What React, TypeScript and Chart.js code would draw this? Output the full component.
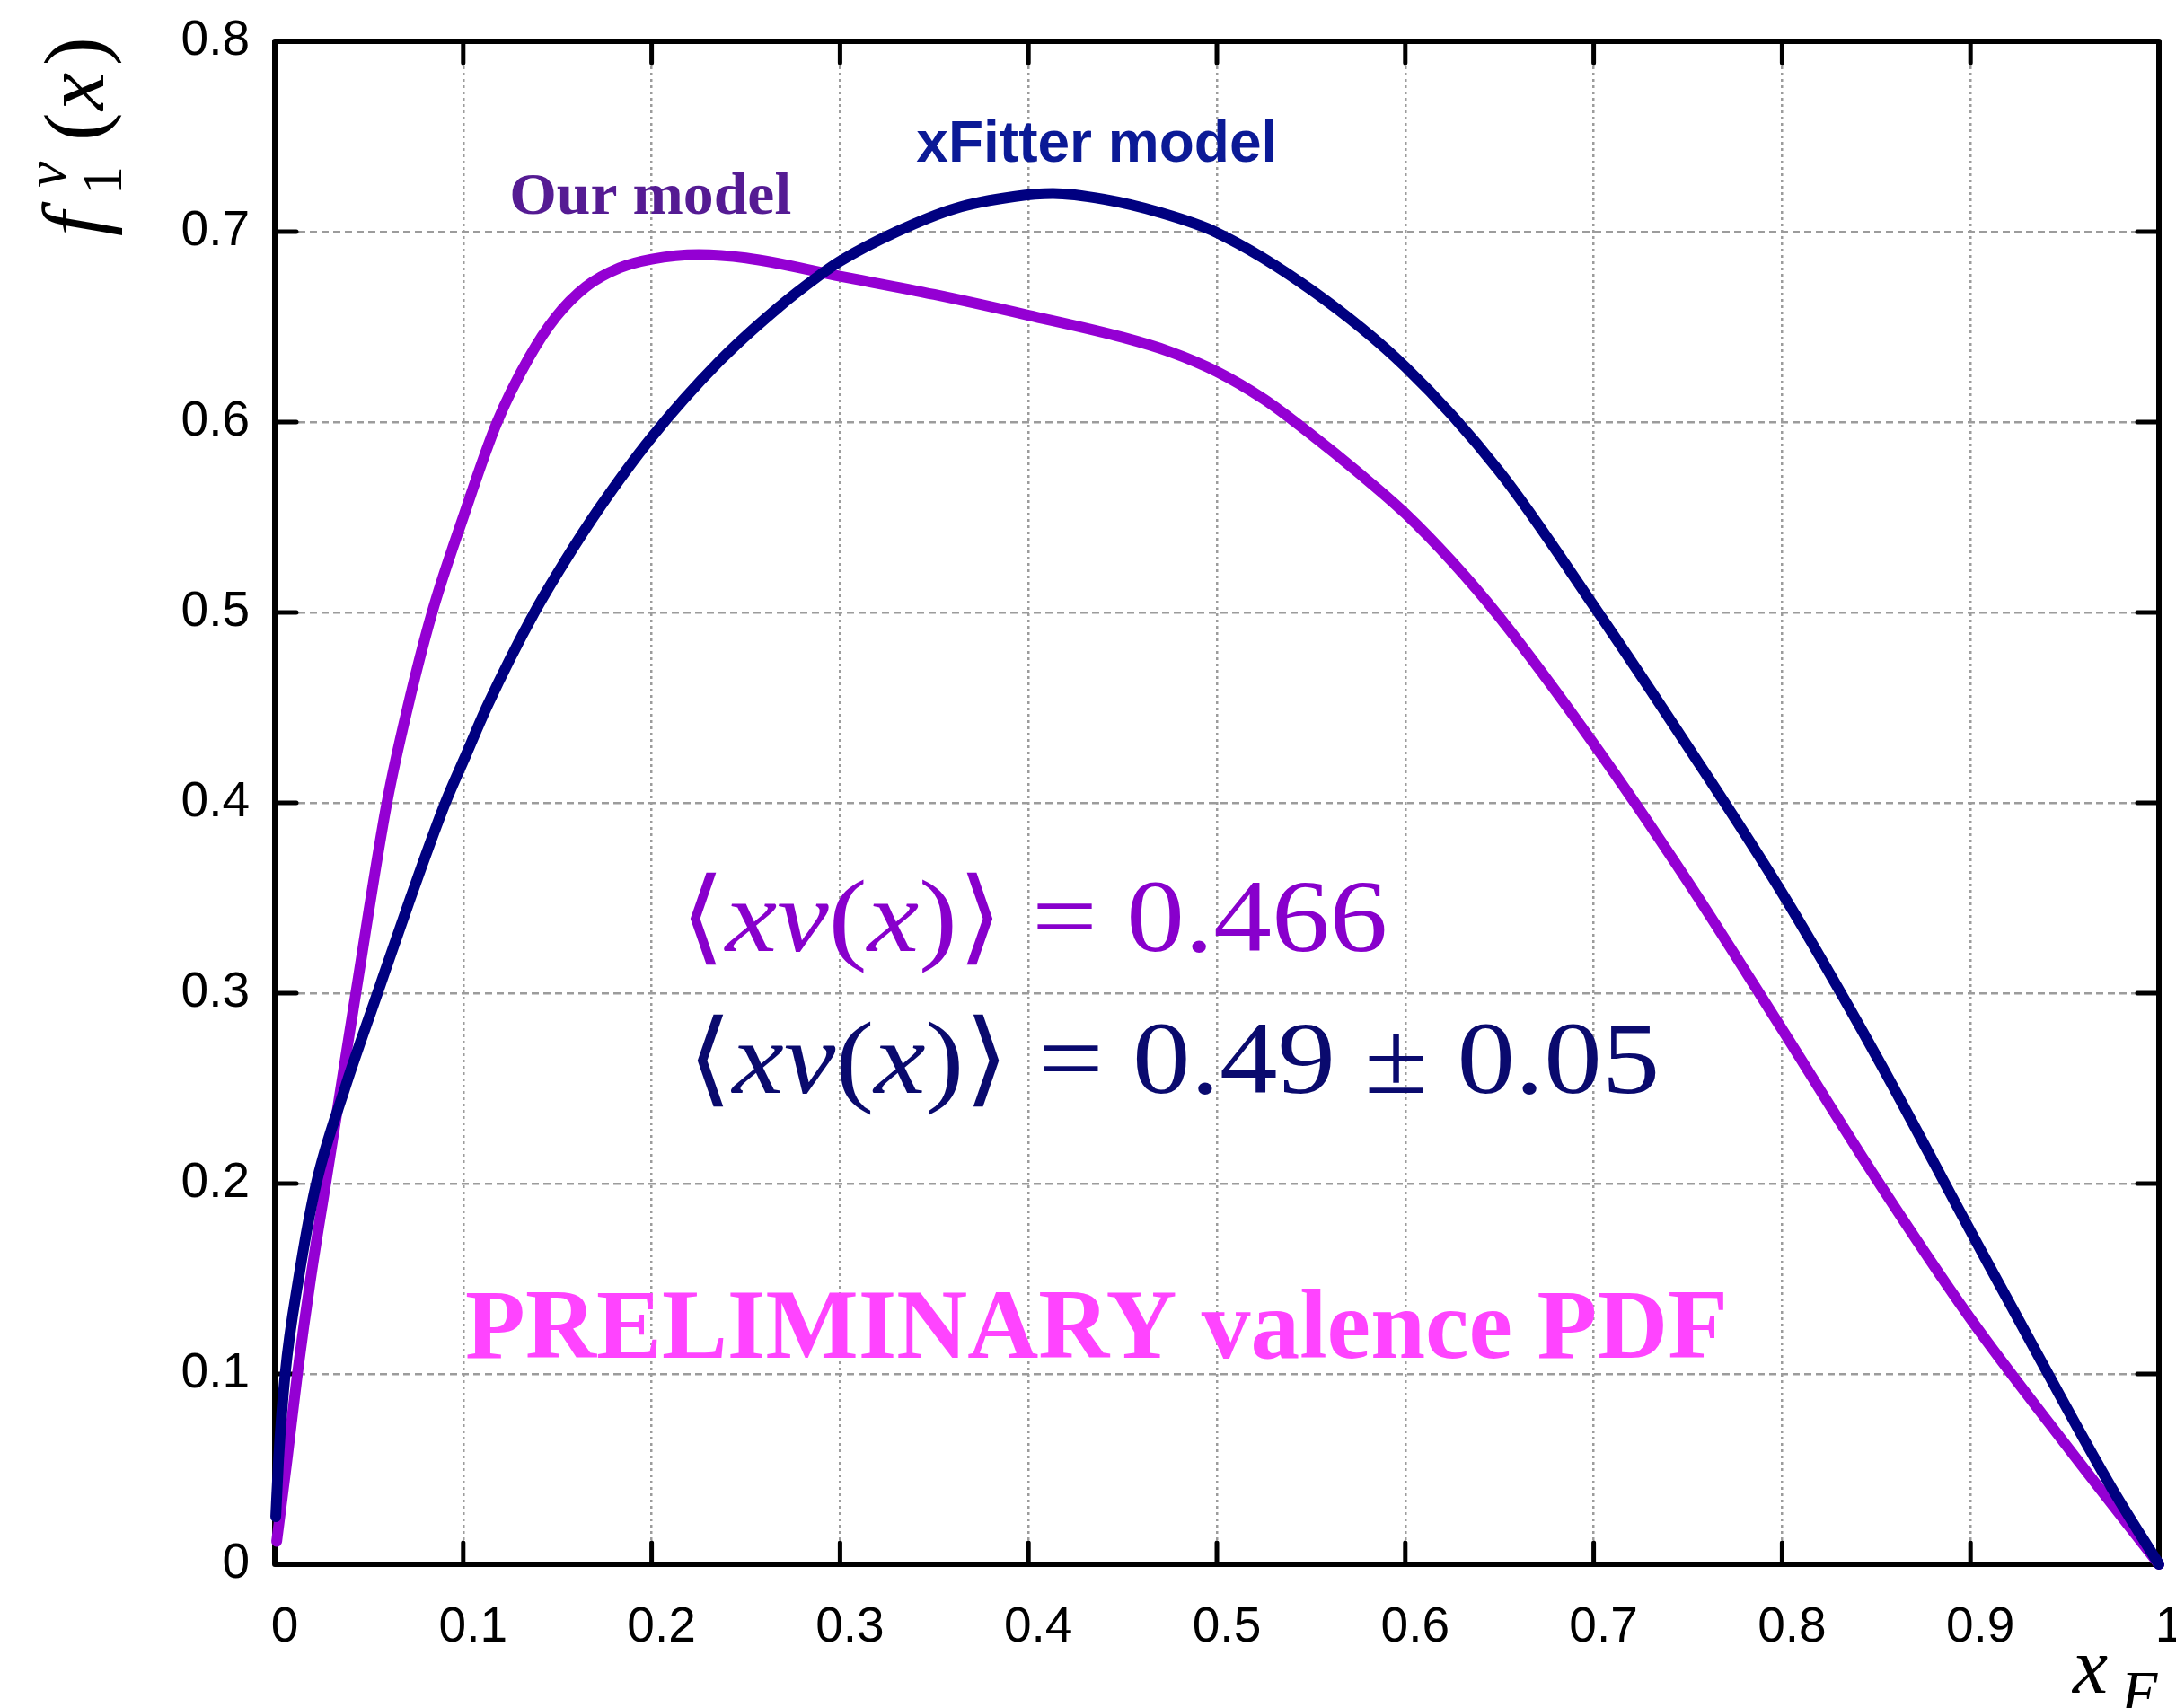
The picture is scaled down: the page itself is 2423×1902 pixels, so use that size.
import React, { useEffect, useRef } from 'react';
import { Chart, registerables } from 'chart.js';

Chart.register(...registerables);

const W = 2423;
const H = 1902;

const xTickLabels = ['0', '0.1', '0.2', '0.3', '0.4', '0.5', '0.6', '0.7', '0.8', '0.9', '1'];
const yTickLabels = ['0', '0.1', '0.2', '0.3', '0.4', '0.5', '0.6', '0.7', '0.8'];

// "Our model" valence PDF (purple)
const ourModelX = [0.001, 0.0065, 0.012, 0.019, 0.027, 0.035, 0.043, 0.0595, 0.0705, 0.0835, 0.1, 0.118, 0.135, 0.149, 0.165, 0.183, 0.2, 0.225, 0.25, 0.3, 0.35, 0.4, 0.45, 0.475, 0.5, 0.525, 0.55, 0.575, 0.6, 0.625, 0.65, 0.7, 0.75, 0.8, 0.85, 0.9, 0.95, 1.0];
const ourModelY = [0.012, 0.055, 0.1, 0.15, 0.2, 0.25, 0.3, 0.4, 0.45, 0.5, 0.55, 0.6, 0.634, 0.655, 0.671, 0.681, 0.6856, 0.688, 0.6862, 0.6766, 0.667, 0.6561, 0.6445, 0.637, 0.6265, 0.612, 0.5935, 0.5735, 0.552, 0.5265, 0.4975, 0.431, 0.3585, 0.281, 0.2025, 0.129, 0.0635, 0.0];

// xFitter model (navy)
const xfitterX = [0.0005, 0.002, 0.0055, 0.0126, 0.022, 0.0372, 0.0545, 0.072, 0.0905, 0.1014, 0.1128, 0.1378, 0.154, 0.1717, 0.2, 0.236, 0.267, 0.289, 0.3, 0.33, 0.361, 0.393, 0.413, 0.44, 0.47, 0.5, 0.55, 0.6, 0.65, 0.7, 0.75, 0.8, 0.85, 0.9, 0.95, 0.975, 1.0];
const xfitterY = [0.025, 0.055, 0.1, 0.15, 0.2, 0.25, 0.3, 0.35, 0.4, 0.425, 0.451, 0.5, 0.527, 0.554, 0.592, 0.632, 0.66, 0.677, 0.6845, 0.7, 0.7122, 0.7185, 0.72, 0.717, 0.71, 0.6995, 0.6695, 0.629, 0.574, 0.5035, 0.4295, 0.3526, 0.267, 0.175, 0.084, 0.04, 0.0];

type Run = { t: string; font: string; dy?: number };

function drawRuns(ctx: CanvasRenderingContext2D, runs: Run[], x: number, y: number, color: string, width?: number) {
  ctx.save();
  const widths = runs.map((r) => {
    ctx.font = r.font;
    return ctx.measureText(r.t).width;
  });
  const total = widths.reduce((a, b) => a + b, 0);
  const s = width ? width / total : 1;
  ctx.translate(x, y);
  ctx.scale(s, 1);
  ctx.fillStyle = color;
  ctx.textBaseline = 'alphabetic';
  ctx.textAlign = 'left';
  let cx = 0;
  runs.forEach((r, i) => {
    ctx.font = r.font;
    ctx.fillText(r.t, cx, r.dy || 0);
    cx += widths[i];
  });
  ctx.restore();
}

const SERIF = '"Liberation Serif", "DejaVu Serif", serif';

const framePlugin = {
  id: 'frameAndText',
  beforeDatasetsDraw(chart: any) {
    const { ctx, chartArea: a, scales } = chart;
    ctx.save();
    ctx.strokeStyle = '#000';
    ctx.lineWidth = 6;
    ctx.lineJoin = 'round';
    ctx.strokeRect(a.left, a.top, a.right - a.left, a.bottom - a.top);
    ctx.lineWidth = 5;
    ctx.lineCap = 'round';
    const TL = 24;
    xTickLabels.slice(1, -1).forEach((l) => {
      const px = scales.x.getPixelForValue(Number(l));
      ctx.beginPath();
      ctx.moveTo(px, a.bottom);
      ctx.lineTo(px, a.bottom - TL);
      ctx.moveTo(px, a.top);
      ctx.lineTo(px, a.top + TL);
      ctx.stroke();
    });
    yTickLabels.slice(1, -1).forEach((l) => {
      const py = scales.y.getPixelForValue(Number(l));
      ctx.beginPath();
      ctx.moveTo(a.left, py);
      ctx.lineTo(a.left + TL, py);
      ctx.moveTo(a.right, py);
      ctx.lineTo(a.right - TL, py);
      ctx.stroke();
    });
    ctx.restore();
  },
  afterDatasetsDraw(chart: any) {
    const { ctx, scales } = chart;
    const X = (v: number) => scales.x.getPixelForValue(v);
    const Y = (v: number) => scales.y.getPixelForValue(v);

    drawRuns(ctx, [{ t: 'Our model', font: `bold 65px ${SERIF}` }], X(0.1245), Y(0.7094), '#551b93', 314);
    drawRuns(ctx, [{ t: 'xFitter model', font: 'bold 65px "Liberation Sans", Arial, sans-serif' }], X(0.3405), Y(0.7368), '#0b1a96', 402);

    const big = 115;
    const formula = (value: string): Run[] => [
      { t: '\u27E8', font: `${big}px ${SERIF}` },
      { t: 'xv', font: `italic ${big}px ${SERIF}` },
      { t: '(', font: `${big}px ${SERIF}` },
      { t: 'x', font: `italic ${big}px ${SERIF}` },
      { t: ')', font: `${big}px ${SERIF}` },
      { t: '\u27E9', font: `${big}px ${SERIF}` },
      { t: ' = ' + value, font: `${big}px ${SERIF}` },
    ];
    drawRuns(ctx, formula('0.466'), X(0.2151), Y(0.3222), '#8800cc', 788);
    drawRuns(ctx, formula('0.49 \u00B1 0.05'), X(0.2189), Y(0.2476), '#0a0a6e', 1083);

    drawRuns(ctx, [{ t: 'PRELIMINARY valence PDF', font: `bold 110px ${SERIF}` }], X(0.1011), Y(0.1085), '#ff44ff', 1406);

    // y axis title  f_1^v(x)
    ctx.save();
    ctx.translate(115, 263);
    ctx.rotate(-Math.PI / 2);
    ctx.fillStyle = '#000';
    ctx.textBaseline = 'alphabetic';
    ctx.font = `italic 98px ${SERIF}`;
    ctx.fillText('f', 0, 0);
    ctx.font = `64px ${SERIF}`;
    ctx.fillText('1', 46, 20);
    ctx.font = `italic 66px ${SERIF}`;
    ctx.fillText('v', 54, -42);
    ctx.font = `95px ${SERIF}`;
    ctx.fillText('(', 106, 0);
    ctx.font = `italic 95px ${SERIF}`;
    ctx.fillText('x', 140, 0);
    ctx.font = `95px ${SERIF}`;
    ctx.fillText(')', 190, 0);
    ctx.restore();

    // x axis title  x_F
    ctx.save();
    ctx.fillStyle = '#000';
    ctx.textBaseline = 'alphabetic';
    ctx.font = `italic 88px ${SERIF}`;
    ctx.fillText('x', 2308, 1885);
    ctx.font = `italic 66px ${SERIF}`;
    ctx.fillText('F', 2362, 1906);
    ctx.restore();
  },
};

export default function App() {
  const ref = useRef<HTMLCanvasElement | null>(null);

  useEffect(() => {
    const canvas = ref.current;
    if (!canvas) return;
    const tickFont = { family: '"Liberation Sans", Arial, sans-serif', size: 55 };
    const chart = new Chart(canvas, {
      type: 'line',
      data: {
        datasets: [
          {
            label: 'xFitter model',
            data: xfitterX.map((x, i) => ({ x, y: xfitterY[i] })),
            borderColor: '#000080',
            borderWidth: 12,
            pointRadius: 0,
            cubicInterpolationMode: 'monotone',
            borderCapStyle: 'round',
            borderJoinStyle: 'round',
            fill: false,
            clip: false,
          },
          {
            label: 'Our model',
            data: ourModelX.map((x, i) => ({ x, y: ourModelY[i] })),
            borderColor: '#9400d3',
            borderWidth: 12,
            pointRadius: 0,
            cubicInterpolationMode: 'monotone',
            borderCapStyle: 'round',
            borderJoinStyle: 'round',
            fill: false,
            clip: false,
          },
        ] as any,
      },
      options: {
        responsive: false,
        animation: false,
        devicePixelRatio: 1,
        layout: { padding: { top: 46, right: 19, left: 0, bottom: 0 } },
        plugins: { legend: { display: false }, tooltip: { enabled: false } },
        scales: {
          x: {
            type: 'linear',
            min: 0,
            max: 1,
            grid: { color: '#9c9c9c', lineWidth: 2.5, drawTicks: false },
            border: { display: false, dash: [3, 4] },
            ticks: {
              stepSize: 0.1,
              autoSkip: false,
              maxRotation: 0,
              padding: 38,
              labelOffset: 11,
              color: '#000',
              font: tickFont,
              callback: (_v: any, i: number) => xTickLabels[i],
            },
            afterFit: (s: any) => {
              s.height = 160;
              s.paddingLeft = 0;
              s.paddingRight = 0;
            },
          },
          y: {
            type: 'linear',
            min: 0,
            max: 0.8,
            grid: { color: '#9c9c9c', lineWidth: 2.5, drawTicks: false },
            border: { display: false, dash: [8, 5] },
            ticks: {
              stepSize: 0.1,
              autoSkip: false,
              padding: 28,
              color: '#000',
              font: tickFont,
              callback: (_v: any, i: number) => yTickLabels[i],
            },
            afterFit: (s: any) => {
              s.width = 306;
              s.paddingTop = 0;
              s.paddingBottom = 0;
            },
          },
        },
      } as any,
      plugins: [framePlugin],
    });
    return () => chart.destroy();
  }, []);

  return (
    <div style={{ position: 'absolute', left: 0, top: 0, width: W, height: H, background: '#fff' }}>
      <canvas ref={ref} width={W} height={H} style={{ display: 'block', width: W, height: H }} />
    </div>
  );
}
